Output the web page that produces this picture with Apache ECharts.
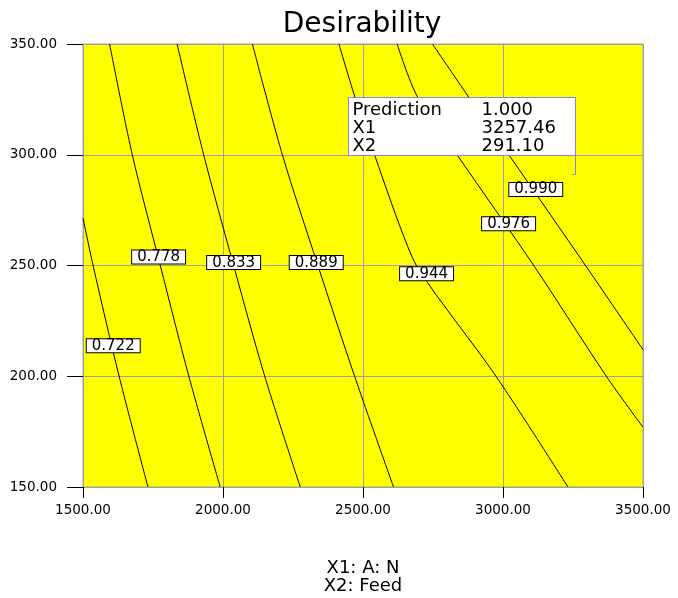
<!DOCTYPE html>
<html>
<head>
<meta charset="utf-8">
<script src="https://cdn.jsdelivr.net/npm/echarts@6/dist/echarts.min.js"></script>
<style>
  html, body { margin: 0; padding: 0; background: #fff; }
  #chart { width: 678px; height: 598px; }
</style>
</head>
<body>
<div id="chart"></div>
<script>
// Desirability contour plot over N (X1) and Feed (X2)

const xTicks = [1500, 2000, 2500, 3000, 3500];
const yTicks = [150, 200, 250, 300, 350];

// contour levels and their traced paths, [N, Feed]
const levels = [0.722, 0.778, 0.833, 0.889, 0.944, 0.976, 0.990];
const c0722 = [[1500, 271.5], [1536, 250], [1629, 200], [1732, 150]];
const c0778 = [[1595, 350], [1676, 300], [1776, 250], [1878, 200], [1990, 150]];
const c0833 = [[1836, 350], [1931, 300], [2038, 250], [2149, 200], [2276, 150]];
const c0889 = [[2105, 350], [2212, 300], [2339, 250], [2470, 200], [2609, 150]];
const c0944 = [[2414, 350], [2470, 326.5], [2545, 298.6], [2640, 265], [2700, 248], [2975, 200], [3232, 150]];
const c0976 = [[2622, 350], [2693, 326.5], [2839, 299.4], [3113, 249.4], [3369, 200], [3500, 177]];
const c0990 = [[2748, 350], [2875, 326.5], [3024, 299.4], [3298, 249.4], [3500, 212]];
const contourPaths = [c0722, c0778, c0833, c0889, c0944, c0976, c0990];

// where each level's tag sits, [N, Feed]
const labelSpots = [[1608, 213.8], [1770, 253.8], [2038, 251.3], [2333, 251.3], [2727, 246.3], [3020, 268.8], [3117, 284.3]];

// optimum point
const predictionRows = ['Prediction', 'X1', 'X2'];
const predictionValue = 1.000;
const optimumX1 = 3257.46;
const optimumX2 = 291.10;

const FONT = 'DejaVu Sans';
const GRID_GREY = '#a0a0a0';
const chart = echarts.init(document.getElementById('chart'), null, { renderer: 'canvas' });

const series = contourPaths.map((path, i) => ({
  name: String(levels[i]),
  type: 'line',
  data: path,
  smooth: 0.3,
  showSymbol: false,
  symbol: 'none',
  silent: true,
  lineStyle: { color: '#000', width: 1 },
  z: 2
}));

series.push({
  type: 'scatter',
  silent: true,
  symbolSize: 0,
  itemStyle: { opacity: 1 },
  z: 5,
  data: labelSpots.map((p, i) => [p[0], p[1], levels[i]]),
  label: {
    show: true,
    position: 'inside',
    formatter: (d) => d.value[2].toFixed(3),
    fontFamily: FONT,
    fontSize: 15,
    color: '#000',
    opacity: 1,
    backgroundColor: '#ffffff',
    borderColor: '#000',
    borderWidth: 1,
    lineHeight: 13,
    padding: [0, 5]
  }
});

// prediction callout: box above-left of the optimum with a leader down to it
series.push({
  type: 'custom',
  silent: true,
  z: 10,
  data: [[optimumX1, optimumX2, predictionValue]],
  renderItem: (params, api) => {
    const p = api.coord([api.value(0), api.value(1)]);
    const w = 227, h = 58;
    const right = Math.round(p[0]) + 0.5;
    const bottom = Math.round(p[1] - 19) + 0.5;
    const left = right - w, top = bottom - h;
    const values = [api.value(2).toFixed(3), api.value(0).toFixed(2), api.value(1).toFixed(2)];
    const children = [
      { type: 'rect', shape: { x: left, y: top, width: w, height: h },
        style: { fill: '#fff', stroke: '#8080ff', lineWidth: 1 } },
      { type: 'polyline', shape: { points: [[right, bottom], [right, Math.round(p[1]) + 0.5], [right - 3, Math.round(p[1]) + 0.5]] },
        style: { fill: null, stroke: '#8080ff', lineWidth: 1 } }
    ];
    predictionRows.forEach((name, i) => {
      const y = top + 12.5 + i * 18;
      children.push({ type: 'text', style: { text: name, x: left + 4, y: y, fill: '#000',
        font: '18px "' + FONT + '"', align: 'left', verticalAlign: 'middle' } });
      children.push({ type: 'text', style: { text: values[i], x: left + 133, y: y, fill: '#000',
        font: '18px "' + FONT + '"', align: 'left', verticalAlign: 'middle' } });
    });
    return { type: 'group', children };
  }
});

chart.setOption({
  animation: false,
  backgroundColor: '#fff',
  title: {
    text: 'Desirability',
    left: 357,
    textAlign: 'center',
    top: 6,
    textStyle: { fontFamily: FONT, fontSize: 28, fontWeight: 'normal', color: '#000' }
  },
  grid: {
    left: 83, right: 35, top: 44, bottom: 111,
    outerBoundsMode: 'none',
    containLabel: false,
    show: true,
    backgroundColor: '#ffff00',
    borderColor: GRID_GREY,
    borderWidth: 1
  },
  xAxis: {
    type: 'value',
    min: xTicks[0], max: xTicks[xTicks.length - 1], interval: xTicks[1] - xTicks[0],
    name: 'X1: A: N\nX2: Feed',
    nameLocation: 'middle',
    nameGap: 72,
    nameTextStyle: { fontFamily: FONT, fontSize: 18, color: '#000', lineHeight: 18 },
    axisLine: { show: false },
    axisTick: { show: true, length: 11, lineStyle: { color: '#000' } },
    axisLabel: { margin: 16, fontFamily: FONT, fontSize: 13.5, color: '#000',
      formatter: (v) => v.toFixed(2) },
    splitLine: { show: true, lineStyle: { color: GRID_GREY, width: 1, opacity: 1 } }
  },
  yAxis: {
    type: 'value',
    min: yTicks[0], max: yTicks[yTicks.length - 1], interval: yTicks[1] - yTicks[0],
    axisLine: { show: false },
    axisTick: { show: true, length: 16, lineStyle: { color: '#000' } },
    axisLabel: { margin: 26, fontFamily: FONT, fontSize: 13.5, color: '#000',
      formatter: (v) => v.toFixed(2) },
    splitLine: { show: true, lineStyle: { color: GRID_GREY, width: 1, opacity: 1 } }
  },
  series
});
</script>
</body>
</html>
